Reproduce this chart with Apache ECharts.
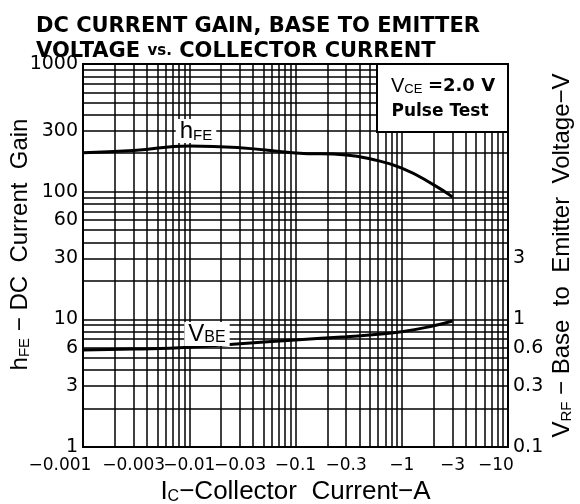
<!DOCTYPE html>
<html>
<head>
<meta charset="utf-8">
<title>DC Current Gain, Base to Emitter Voltage vs. Collector Current</title>
<script src="https://cdn.jsdelivr.net/npm/echarts@6.0.0/dist/echarts.min.js"></script>
<style>
    html, body { margin: 0; padding: 0; background: #fff; }
    #chart { width: 580px; height: 504px; }
</style>
</head>
<body>
<div id="chart"></div>
<script>
// collector current, A (magnitude, the axis shows it negative)
const icValues = [0.001, 0.003, 0.01, 0.03, 0.1, 0.3, 0.5, 1, 2, 3]
// DC current gain
const hfeValues = [202, 210, 228, 221, 201, 194, 181, 153, 113, 91]
// base to emitter voltage, V
const vbeValues = [0.575, 0.585, 0.605, 0.645, 0.69, 0.73, 0.755, 0.8, 0.89, 0.97]

// tick labels
const xTickLabels = [0.001, 0.003, 0.01, 0.03, 0.1, 0.3, 1, 3, 10]
const yLeftTickLabels = [1, 3, 6, 10, 30, 60, 100, 300, 1000]
const yRightTickLabels = [0.1, 0.3, 0.6, 1, 3]

const FONT = '"DejaVu Sans", "Liberation Sans", sans-serif'
const HEAD = '"Liberation Sans", Arial, sans-serif'

// log paper lines: 1..9 in every decade
function logGrid(fromExp, toExp) {
    const out = []
    for (let e = fromExp; e < toExp; e++) {
        for (let m = 1; m < 10; m++) out.push(e + Math.log10(m))
    }
    out.push(toExp)
    return out
}
const niceNum = v => Number(Math.pow(10, v).toPrecision(3))

const chart = echarts.init(document.getElementById('chart'), null, { renderer: 'canvas' })

const gridLine = { show: true, lineStyle: { color: '#000', width: 1.5 } }
const curveLine = { color: '#000', width: 3 }

const option = {
    backgroundColor: '#fff',
    animation: false,
    title: {
        text: 'DC CURRENT GAIN, BASE TO EMITTER\nVOLTAGE {s|vs.} COLLECTOR CURRENT',
        left: 31,
        top: 9,
        textStyle: {
            fontFamily: FONT,
            fontSize: 21,
            fontWeight: 'bold',
            color: '#000',
            lineHeight: 25,
            rich: {
                s: { fontFamily: FONT, fontSize: 15, fontWeight: 'bold', color: '#000', lineHeight: 25 }
            }
        }
    },
    grid: {
        left: 83,
        right: 72,
        top: 64,
        bottom: 57,
        outerBoundsMode: 'none',
        show: true,
        borderColor: '#000',
        borderWidth: 2,
        backgroundColor: '#fff'
    },
    xAxis: [
        // real scale for the curves
        { type: 'log', min: 0.001, max: 10, show: false },
        // log paper lines and labels
        {
            type: 'value',
            min: -3,
            max: 1,
            position: 'bottom',
            axisLine: { show: false, onZero: false },
            axisTick: { show: false, customValues: logGrid(-3, 1) },
            splitLine: gridLine,
            axisLabel: {
                customValues: xTickLabels.map(Math.log10),
                margin: 10,
                fontFamily: FONT,
                fontSize: 17,
                color: '#000',
                formatter: v => {
                    const t = '\u2212' + niceNum(v)
                    if (v <= -3) return '{first|' + t + '}'
                    if (v >= 1) return '{last|' + t + '}'
                    return t
                },
                rich: {
                    first: { fontFamily: FONT, fontSize: 17, color: '#000', width: 109, align: 'left' },
                    last: { fontFamily: FONT, fontSize: 17, color: '#000', width: 60, align: 'left' }
                }
            },
            name: 'I{s|C}\u2212Collector  Current\u2212A',
            nameLocation: 'middle',
            nameGap: 31,
            nameTextStyle: {
                fontFamily: HEAD,
                fontSize: 26,
                color: '#000',
                rich: { s: { fontFamily: HEAD, fontSize: 16, color: '#000', verticalAlign: 'bottom' } }
            }
        }
    ],
    yAxis: [
        // hFE scale
        { type: 'log', min: 1, max: 1000, show: false },
        // left log paper lines and labels
        {
            type: 'value',
            min: 0,
            max: 3,
            position: 'left',
            axisLine: { show: false, onZero: false },
            axisTick: { show: false, customValues: logGrid(0, 3) },
            splitLine: gridLine,
            axisLabel: {
                customValues: yLeftTickLabels.map(Math.log10),
                margin: 5,
                fontFamily: FONT,
                fontSize: 19,
                color: '#000',
                formatter: v => String(niceNum(v))
            },
            name: 'h{s|FE} \u2212 DC  Current  Gain',
            nameLocation: 'middle',
            nameRotate: 90,
            nameGap: 51,
            nameMoveOverlap: false,
            nameTextStyle: {
                fontFamily: HEAD,
                fontSize: 24,
                color: '#000',
                padding: [0, 0, 0, 22],
                rich: { s: { fontFamily: HEAD, fontSize: 15, color: '#000', verticalAlign: 'bottom' } }
            }
        },
        // right labels (VBE)
        {
            type: 'value',
            min: -1,
            max: 2,
            position: 'right',
            axisLine: { show: false, onZero: false },
            axisTick: { show: false },
            splitLine: { show: false },
            axisLabel: {
                customValues: yRightTickLabels.map(Math.log10),
                margin: 5,
                fontFamily: FONT,
                fontSize: 19,
                color: '#000',
                formatter: v => String(niceNum(v))
            },
            name: 'V{s|RF} \u2212 Base  to  Emitter  Voltage\u2212V',
            nameLocation: 'middle',
            nameRotate: 90,
            nameGap: 42,
            nameMoveOverlap: false,
            nameTextStyle: {
                fontFamily: HEAD,
                fontSize: 24,
                color: '#000',
                rich: { s: { fontFamily: HEAD, fontSize: 15, color: '#000', verticalAlign: 'bottom' } }
            }
        },
        // VBE scale
        { type: 'log', min: 0.1, max: 100, position: 'right', show: false }
    ],
    series: [
        {
            name: 'hFE',
            type: 'line',
            xAxisIndex: 0,
            yAxisIndex: 0,
            smooth: 0.5,
            symbol: 'none',
            lineStyle: curveLine,
            data: icValues.map((ic, i) => [ic, hfeValues[i]]),
            z: 5
        },
        {
            name: 'VBE',
            type: 'line',
            xAxisIndex: 0,
            yAxisIndex: 3,
            smooth: 0.5,
            symbol: 'none',
            lineStyle: curveLine,
            data: icValues.map((ic, i) => [ic, vbeValues[i]]),
            z: 5
        }
    ],
    graphic: [
        // test condition box
        {
            type: 'rect',
            z: 100,
            shape: { x: 377, y: 64, width: 131, height: 68 },
            style: { fill: '#fff', stroke: '#000', lineWidth: 2 }
        },
        {
            type: 'text',
            z: 101,
            x: 443,
            y: 86,
            style: {
                text: 'V{s|CE} {b|=2.0 V}',
                align: 'center',
                verticalAlign: 'middle',
                font: '20px ' + HEAD,
                fill: '#000',
                rich: {
                    s: { fontFamily: HEAD, fontSize: 13, fill: '#000', verticalAlign: 'bottom' },
                    b: { fontFamily: FONT, fontSize: 18, fontWeight: 'bold', fill: '#000' }
                }
            }
        },
        {
            type: 'text',
            z: 101,
            x: 440,
            y: 112,
            style: {
                text: 'Pulse Test',
                align: 'center',
                verticalAlign: 'middle',
                font: 'bold 17px ' + FONT,
                fill: '#000'
            }
        },
        // curve labels
        {
            type: 'text',
            z: 101,
            x: 196,
            y: 131,
            style: {
                text: 'h{s|FE}',
                align: 'center',
                verticalAlign: 'middle',
                font: '24px ' + HEAD,
                fill: '#000',
                backgroundColor: '#fff',
                padding: [0, 4, 0, 4],
                rich: { s: { fontFamily: HEAD, fontSize: 15, fill: '#000', verticalAlign: 'bottom' } }
            }
        },
        {
            type: 'text',
            z: 101,
            x: 207,
            y: 334,
            style: {
                text: 'V{s|BE}',
                align: 'center',
                verticalAlign: 'middle',
                font: '24px ' + HEAD,
                fill: '#000',
                backgroundColor: '#fff',
                padding: [0, 4, 0, 4],
                rich: { s: { fontFamily: HEAD, fontSize: 16, fill: '#000', verticalAlign: 'bottom' } }
            }
        }
    ]
}

chart.setOption(option)
</script>
</body>
</html>
